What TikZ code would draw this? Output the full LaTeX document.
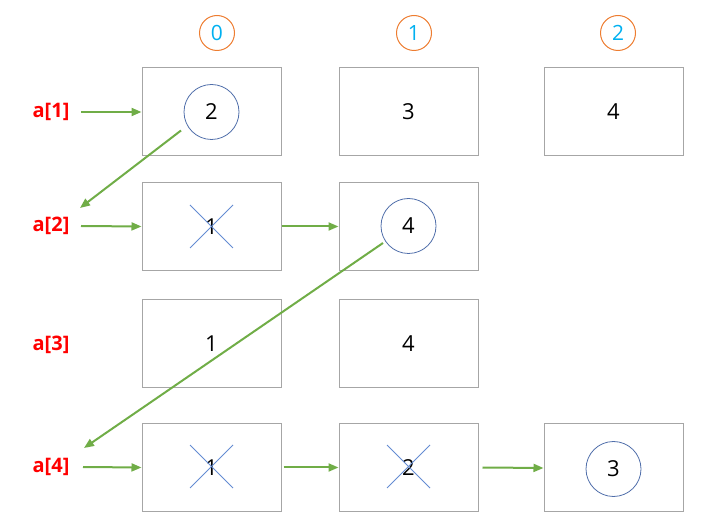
\documentclass[tikz,border=0pt]{standalone}
\usepackage{fontspec}
\setmainfont{Open Sans}
\usetikzlibrary{arrows.meta}
\definecolor{boxgray}{RGB}{166,166,166}
\definecolor{cblue}{RGB}{80,110,170}
\definecolor{xblue}{RGB}{100,140,210}
\definecolor{agreen}{RGB}{112,173,71}
\definecolor{hcyan}{RGB}{0,176,240}
\definecolor{horange}{RGB}{237,125,49}
\begin{document}
\begin{tikzpicture}[x=1pt,y=-1pt,
  cell/.style={draw=boxgray,line width=1pt,minimum width=139pt,minimum height=88pt,inner sep=0pt,font=\fontsize{22}{24}\selectfont},
  ring/.style={circle,draw=cblue,line width=0.8pt,minimum size=55pt,inner sep=0pt,font=\fontsize{22}{24}\selectfont},
  hdr/.style={circle,draw=horange,line width=1pt,minimum size=35pt,inner sep=0pt,text=hcyan,font=\fontsize{21}{24}\selectfont},
  lab/.style={text=red,font=\bfseries\fontsize{20}{22}\selectfont,inner sep=0pt},
  arr/.style={draw=agreen,line width=2pt,-{Triangle[length=10pt,width=8pt]}},
  xline/.style={draw=xblue,line width=0.9pt}]
\useasboundingbox (0,0) rectangle (705,529);
% headers
\node[hdr] (h0) at (217,33) {0};
\node[hdr] (h1) at (414,33) {1};
\node[hdr] (h2) at (618,33) {2};
% labels
\node[lab] (l1) at (51,112) {a[1]};
\node[lab] (l2) at (51,226) {a[2]};
\node[lab] (l3) at (51,345) {a[3]};
\node[lab] (l4) at (51,467) {a[4]};
% cells
\node[cell] (c10) at (211.5,112) {};
\node[cell] (c11) at (408.5,112) {3};
\node[cell] (c12) at (613.5,112) {4};
\node[cell] (c20) at (211.5,226.5) {1};
\node[cell] (c21) at (408.5,226.5) {};
\node[cell] (c30) at (211.5,343.5) {1};
\node[cell] (c31) at (408.5,343.5) {4};
\node[cell] (c40) at (211.5,467.5) {1};
\node[cell] (c41) at (408.5,467.5) {2};
\node[cell] (c42) at (613.5,467.5) {};
% rings
\node[ring] (r1) at (211.5,112) {2};
\node[ring] (r2) at (408.5,226) {4};
\node[ring] (r4) at (613.5,469) {3};
% crosses
\foreach \n/\cx/\cy in {x20/211.5/226.5, x40/211.5/466.5, x41/408.5/466.5}{
  \coordinate (\n a) at (\cx-21.5,\cy-21.5);
  \coordinate (\n b) at (\cx+21.5,\cy+21.5);
  \coordinate (\n c) at (\cx+21.5,\cy-21.5);
  \coordinate (\n d) at (\cx-21.5,\cy+21.5);
  \draw[xline] (\n a) -- (\n b);
  \draw[xline] (\n c) -- (\n d);
}
% arrows
\coordinate (s1) at (81,112);
\coordinate (s2) at (81,226);
\coordinate (s4) at (83,467);
\draw[arr] (s1) -- (c10.west);
\draw[arr] (s2) -- (c20.west);
\draw[arr] (s4) -- (c40.west);
\draw[arr] (c20.east) -- (c21.west);
\draw[arr] ([xshift=2pt]c40.east) -- (c41.west);
\draw[arr] ([xshift=4pt]c41.east) -- ([yshift=-0.5pt]c42.west);
\coordinate (d1s) at (181,130.5);
\coordinate (d1e) at (80,208);
\coordinate (d2s) at (383,243);
\coordinate (d2e) at (84,448);
\draw[arr] (d1s) -- (d1e);
\draw[arr] (d2s) -- (d2e);
\end{tikzpicture}
\end{document}
